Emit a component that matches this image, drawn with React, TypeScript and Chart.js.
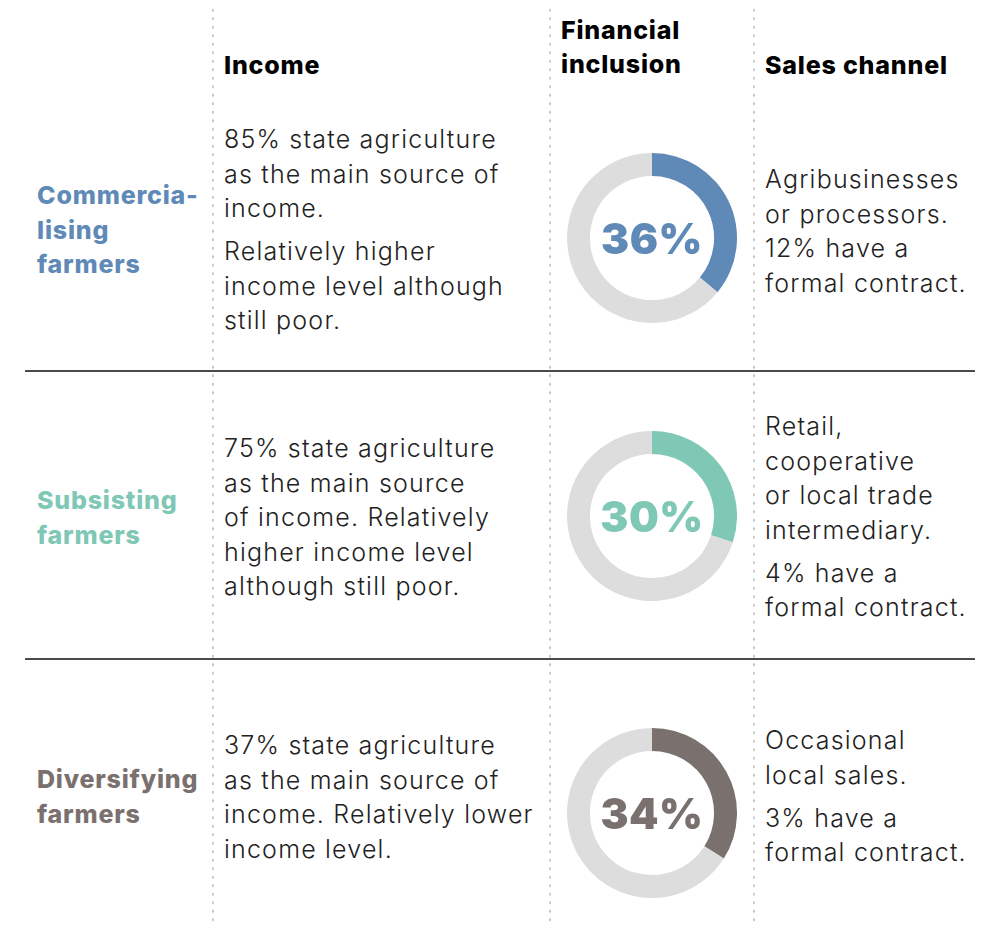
import React, { useEffect, useRef } from "react";
import { Chart, registerables } from "chart.js";

Chart.register(...registerables);

// ---- data ----
const categories = ["Commercia-\nlising\nfarmers", "Subsisting\nfarmers", "Diversifying\nfarmers"];
const financialInclusion = [36, 30, 34];
const seriesColors = ["#5f8ab8", "#7fc8b5", "#7a716f"];
const restColor = "#dddddd";
const columnHeaders = ["Income", "Financial\ninclusion", "Sales channel"];
const incomeText = [
  ["85% state agriculture\nas the main source of\nincome.", "Relatively higher\nincome level although\nstill poor."],
  ["75% state agriculture\nas the main source\nof income. Relatively\nhigher income level\nalthough still poor."],
  ["37% state agriculture\nas the main source of\nincome. Relatively lower\nincome level."],
];
const salesText = [
  ["Agribusinesses\nor processors.\n12% have a\nformal contract."],
  ["Retail,\ncooperative\nor local trade\nintermediary.", "4% have a\nformal contract."],
  ["Occasional\nlocal sales.", "3% have a\nformal contract."],
];

// ---- layout ----
const rowLabelTop = [178, 483, 762];
const incomeTop = [122, 431, 728];
const salesTop = [162, 409, 723];
const donutCenterY = [238, 516, 813];
const donutCenterX = 652;
const donutSize = 170;
const LH = 34.5;

const bodyFont = "Inter, 'Open Sans', sans-serif";
const headFont = "Inter, 'Noto Sans', sans-serif";

function Lines({ text }: { text: string }) {
  const parts = text.split("\n");
  return (
    <>
      {parts.map((p, i) => (
        <div key={i} style={{ whiteSpace: "nowrap" }}>{p}</div>
      ))}
    </>
  );
}

function Donut({ value, color, cy }: { value: number; color: string; cy: number }) {
  const ref = useRef<HTMLCanvasElement | null>(null);
  useEffect(() => {
    if (!ref.current) return;
    const chart = new Chart(ref.current, {
      type: "doughnut",
      data: {
        labels: ["Included", "Not included"],
        datasets: [
          {
            data: [value, 100 - value],
            backgroundColor: [color, restColor],
            borderWidth: 0,
            hoverOffset: 0,
          },
        ],
      },
      options: {
        animation: false,
        responsive: false,
        cutout: "73%",
        rotation: 0,
        layout: { padding: 0 },
        plugins: { legend: { display: false }, tooltip: { enabled: false } },
        events: [],
      },
    });
    return () => chart.destroy();
  }, [value, color]);
  return (
    <div
      style={{
        position: "absolute",
        left: donutCenterX - donutSize / 2,
        top: cy - donutSize / 2,
        width: donutSize,
        height: donutSize,
      }}
    >
      <canvas ref={ref} width={donutSize} height={donutSize} style={{ width: donutSize, height: donutSize }} />
      <div
        style={{
          position: "absolute",
          left: 0,
          top: 0,
          width: donutSize,
          height: donutSize,
          display: "flex",
          alignItems: "center",
          justifyContent: "center",
          fontFamily: headFont,
          fontWeight: 900,
          fontSize: 42,
          color,
          letterSpacing: 0.5,
        }}
      >
        {value}%
      </div>
    </div>
  );
}

const dotted = (x: number): React.CSSProperties => ({
  position: "absolute",
  left: x - 2,
  top: 6,
  width: 4,
  height: 916,
  backgroundImage: "radial-gradient(circle, #c4c4c4 1px, transparent 1.3px)",
  backgroundSize: "4px 8.5px",
});

const headStyle: React.CSSProperties = {
  fontFamily: headFont,
  fontWeight: 800,
  fontSize: 25,
  letterSpacing: 0.8,
};

const bodyStyle: React.CSSProperties = {
  fontFamily: bodyFont,
  fontWeight: 300,
  fontSize: 25,
  letterSpacing: 1.2,
  lineHeight: LH + "px",
  color: "#222",
};

export default function App() {
  return (
    <div
      style={{
        position: "absolute",
        left: 0,
        top: 0,
        width: 994,
        height: 927,
        background: "#ffffff",
        overflow: "hidden",
        color: "#222",
      }}
    >
      <div style={dotted(213)} />
      <div style={dotted(550)} />
      <div style={dotted(754)} />
      <div style={{ position: "absolute", left: 25, top: 370, width: 950, height: 2, background: "#4a4a4a" }} />
      <div style={{ position: "absolute", left: 25, top: 658, width: 950, height: 2, background: "#4a4a4a" }} />

      {/* headers */}
      {[224, 561, 765].map((x, i) => (
        <div
          key={i}
          style={{
            ...headStyle,
            position: "absolute",
            left: x,
            top: i === 1 ? 13 : 48,
            lineHeight: "34px",
            color: "#000",
          }}
        >
          <Lines text={columnHeaders[i]} />
        </div>
      ))}

      {categories.map((c, r) => (
        <React.Fragment key={r}>
          <div
            style={{
              ...headStyle,
              position: "absolute",
              left: 37,
              top: rowLabelTop[r],
              lineHeight: LH + "px",
              color: seriesColors[r],
            }}
          >
            <Lines text={c} />
          </div>
          <div style={{ ...bodyStyle, position: "absolute", left: 224, top: incomeTop[r] }}>
            {incomeText[r].map((p, k) => (
              <div key={k} style={{ marginTop: k > 0 ? 8.5 : 0 }}>
                <Lines text={p} />
              </div>
            ))}
          </div>
          <Donut value={financialInclusion[r]} color={seriesColors[r]} cy={donutCenterY[r]} />
          <div style={{ ...bodyStyle, position: "absolute", left: 765, top: salesTop[r] }}>
            {salesText[r].map((p, k) => (
              <div key={k} style={{ marginTop: k > 0 ? 8.5 : 0 }}>
                <Lines text={p} />
              </div>
            ))}
          </div>
        </React.Fragment>
      ))}
    </div>
  );
}
